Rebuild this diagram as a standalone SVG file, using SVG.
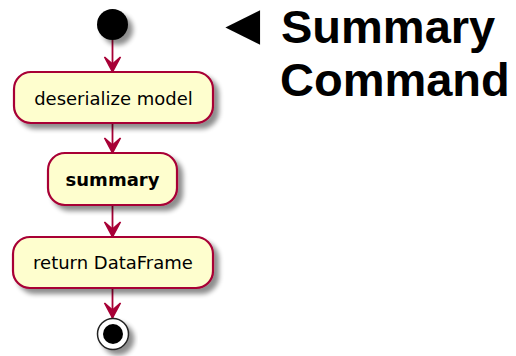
<svg xmlns="http://www.w3.org/2000/svg" width="516" height="356" viewBox="0 0 516 356">
  <defs>
    <filter id="shadow" x="-20%" y="-20%" width="150%" height="160%">
      <feGaussianBlur in="SourceAlpha" stdDeviation="2.5"/>
      <feOffset dx="5" dy="5" result="b"/>
      <feComponentTransfer in="b" result="s">
        <feFuncA type="linear" slope="0.45"/>
      </feComponentTransfer>
      <feMerge>
        <feMergeNode in="s"/>
        <feMergeNode in="SourceGraphic"/>
      </feMerge>
    </filter>
    <marker id="arrow" markerUnits="userSpaceOnUse" markerWidth="20" markerHeight="20" viewBox="0 0 20 20" refX="17" refY="10" orient="auto">
      <path d="M2,2 L17,10 L2,18 L9,10 Z" fill="#A80036" stroke="#A80036" stroke-width="1.5" stroke-linejoin="miter"/>
    </marker>
    <style>
      .act { fill: #FEFECE; stroke: #A80036; stroke-width: 2.2; }
      .lbl { font-family: "DejaVu Sans", sans-serif; font-size: 18px; fill: #000; text-anchor: middle; }
      .bold { font-weight: bold; }
      .edge { stroke: #A80036; stroke-width: 1.8; fill: none; }
      .title { font-family: "Liberation Sans", Arial, sans-serif; font-size: 47px; font-weight: bold; fill: #000; }
      .pointer { font-size: 58px; }
    </style>
  </defs>

  <g id="connectors">
    <line class="edge" x1="112.5" y1="40" x2="112.5" y2="72" marker-end="url(#arrow)"/>
    <line class="edge" x1="112.5" y1="123" x2="112.5" y2="153" marker-end="url(#arrow)"/>
    <line class="edge" x1="112.5" y1="205" x2="112.5" y2="237" marker-end="url(#arrow)"/>
    <line class="edge" x1="112.5" y1="288" x2="112.5" y2="318" marker-end="url(#arrow)"/>
  </g>

  <g id="start">
    <circle cx="112.5" cy="24.5" r="15.5" fill="#000" filter="url(#shadow)"/>
  </g>

  <g id="deserialize">
    <rect class="act" x="14" y="72" width="199" height="51" rx="17" filter="url(#shadow)"/>
    <text class="lbl" x="113.5" y="104.5">deserialize model</text>
  </g>

  <g id="summary">
    <rect class="act" x="48" y="153" width="129" height="52" rx="17" filter="url(#shadow)"/>
    <text class="lbl bold" x="112.5" y="186">summary</text>
  </g>

  <g id="return">
    <rect class="act" x="13" y="237" width="200" height="51" rx="17" filter="url(#shadow)"/>
    <text class="lbl" x="113" y="269">return DataFrame</text>
  </g>

  <g id="end">
    <circle cx="113" cy="334" r="15.5" fill="#FFFFFF" stroke="#222" stroke-width="1.5" filter="url(#shadow)"/>
    <circle cx="113" cy="334" r="10" fill="#000"/>
  </g>

  <g id="title">
    <text class="title pointer" x="214" y="43.5">◄</text>
    <text class="title" x="281" y="42.5">Summary</text>
    <text class="title" x="280" y="96">Command</text>
  </g>
</svg>
